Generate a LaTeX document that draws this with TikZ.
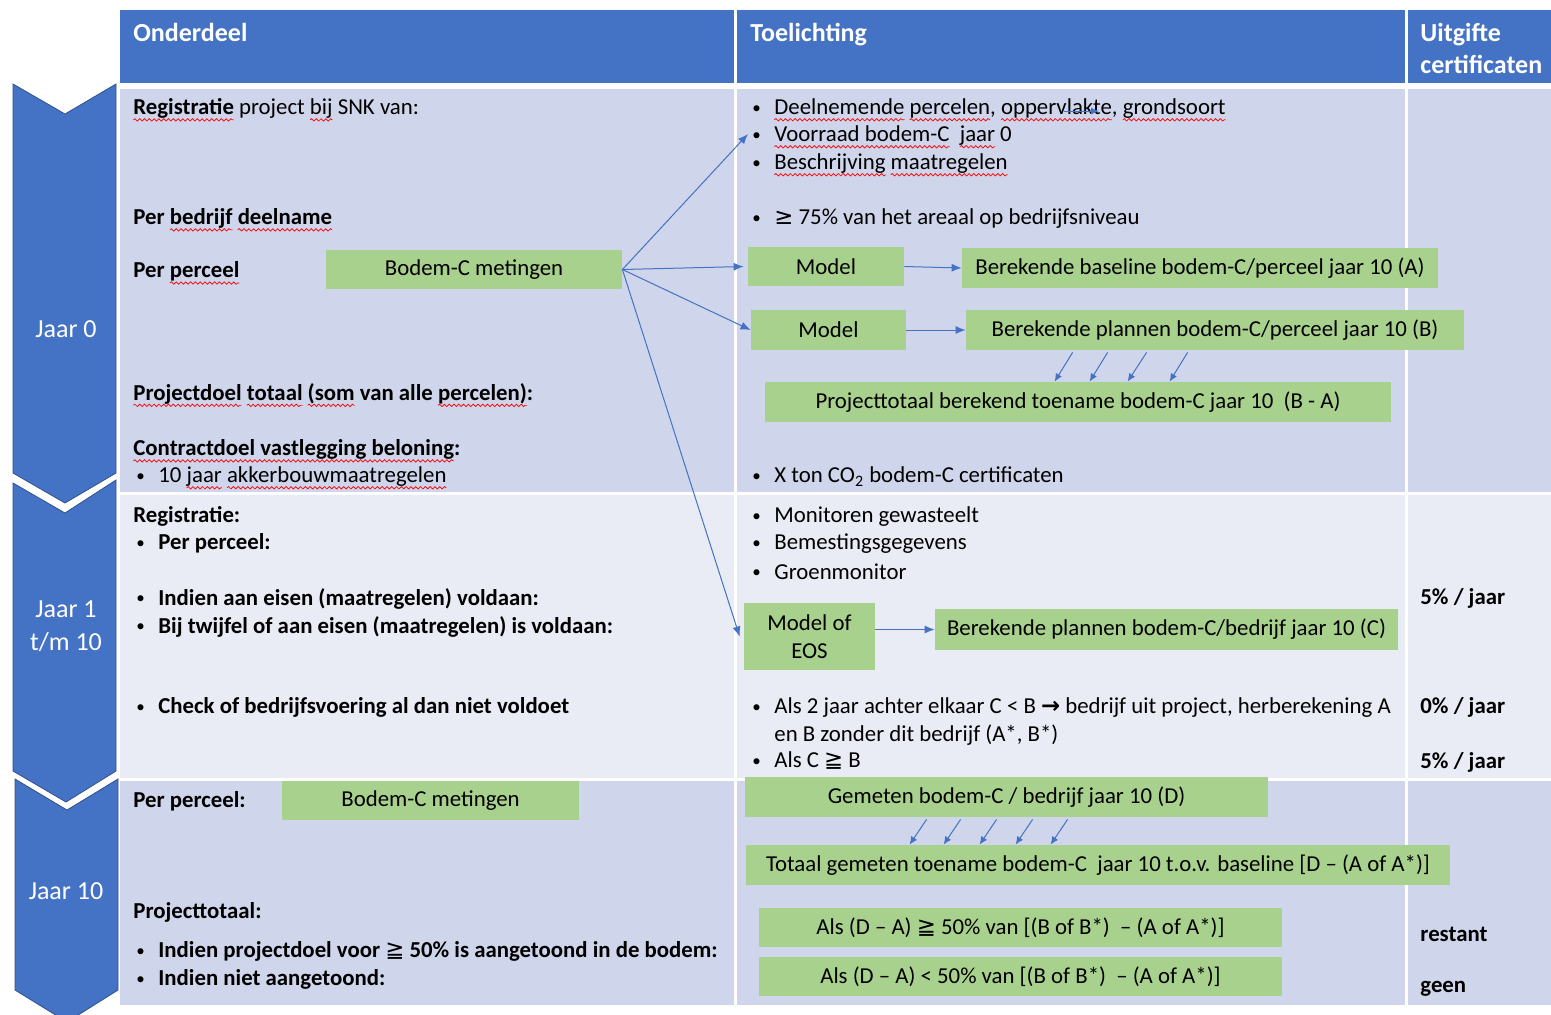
\documentclass[tikz,border=0pt]{standalone}
\usepackage{fontspec}
\setmainfont{Carlito}
\newfontfamily\symfont{DejaVu Sans}
\usepackage{tikz}
\usetikzlibrary{arrows.meta,decorations.pathmorphing}

\definecolor{hdrblue}{HTML}{4472C4}
\definecolor{chevline}{HTML}{2F528F}
\definecolor{rowdark}{HTML}{CFD5EA}
\definecolor{rowlight}{HTML}{E9EBF5}
\definecolor{boxgreen}{HTML}{A9D18E}

\newsavebox\sqbox
\newlength\sqlen
\newcommand\sq[1]{\sbox\sqbox{#1}\setlength\sqlen{\wd\sqbox}\rlap{\usebox\sqbox}%
  \tikz[baseline=0pt, x=1pt, y=1pt]{\useasboundingbox (0,0) rectangle (\sqlen,0);
    \draw[red, line width=0.35pt, decorate, decoration={snake, amplitude=0.6pt, segment length=2.4pt}]
      (0,-2.6) -- (\sqlen,-2.6);}}
\newcommand\bul{\makebox[11pt][l]{\raisebox{0.7pt}{\mdseries\fontsize{8.5}{8}\selectfont\textbullet}}}
\newcommand\symge{{\symfont\mdseries ≥}}
\newcommand\symgeqq{{\symfont\mdseries ≧}}
\newcommand\symrarr{{\symfont\bfseries →}}

\begin{document}
\begin{tikzpicture}
[
  x=0.5pt, y=-0.5pt,
  hdr/.style   = {anchor=base west, inner sep=0, text=white,
                  font=\fontsize{13}{15.6}\selectfont\bfseries},
  txt/.style   = {anchor=west, inner sep=0, yshift=-0.8pt,
                  font=\fontsize{11.4}{13.7}\selectfont},
  btxt/.style  = {txt, font=\fontsize{11.4}{13.7}\selectfont\bfseries},
  grn/.style   = {fill=boxgreen, inner sep=0, font=\fontsize{11.4}{13.7}\selectfont},
  chev/.style  = {fill=hdrblue, draw=chevline, line width=0.4pt},
  jaar/.style  = {text=white, align=center, font=\fontsize{13}{16.5}\selectfont},
  arr/.style   = {draw=hdrblue, line width=0.5pt, -{Latex[length=5pt,width=4pt]}},
  sarr/.style  = {draw=hdrblue, line width=0.5pt, -{Latex[length=4pt,width=3.5pt]}}
]
\useasboundingbox (0,0) rectangle (1551,1014);
\begin{scope}
\clip (0,0) rectangle (1551,1014);
% rows
\fill[hdrblue]  (120,10)  rectangle (1551,83);
\fill[rowdark]  (120,89)  rectangle (1551,492);
\fill[rowlight] (120,495) rectangle (1551,778);
\fill[rowdark]  (120,781) rectangle (1551,1005);
\draw[white, line width=1.5pt] (735.5,10) -- (735.5,1005) (1406.5,10) -- (1406.5,1005);
% chevrons
\draw[chev] (13,84) -- (65,114) -- (116,84) -- (116,473) -- (65,503) -- (13,473) -- cycle;
\draw[chev] (13,483) -- (65,513) -- (116,480) -- (116,771) -- (66,802) -- (13,771) -- cycle;
\draw[chev] (15,779) -- (67,810) -- (118,779) -- (118,990) -- (67,1022) -- (15,990) -- cycle;
\end{scope}
\node[jaar] (j0)  at (66,329) {Jaar 0};
\node[jaar] (j1)  at (66,626) {Jaar 1\\t/m 10};
\node[jaar] (j10) at (66,891) {Jaar 10};

% header
\node[hdr] (hOnd) at (133,41) {Onderdeel};
\node[hdr] (hToe) at (750,41) {Toelichting};
\node[hdr] (hUit) at (1420,41) {Uitgifte};
\node[hdr] (hCer) at (1420,73) {certificaten};

% jaar 0
\node[txt]  (regP)   at (133,107) {\sq{\textbf{Registratie}} project \sq{bij} SNK van:};
\node[btxt] (bedr)   at (133,217) {Per \sq{bedrijf} \sq{deelname}};
\node[btxt] (perc)   at (133,270) {Per \sq{perceel}};
\node[btxt] (pdoel)  at (133,392) {\sq{Projectdoel} \sq{totaal} \sq{(som} van alle \sq{percelen)}:};
\node[btxt] (cdoel)  at (133,448) {\sq{Contractdoel vastlegging beloning}:};
\node[txt]  (akker)  at (136,475) {\bul 10 \sq{jaar} \sq{akkerbouwmaatregelen}};
\node[txt]  (deel)   at (752,107) {\bul\sq{Deelnemende} \sq{percelen}, \sq{oppervlakte}, \sq{grondsoort}};
\node[txt]  (voor)   at (752,134) {\bul\sq{Voorraad bodem-C}\ \ \sq{jaar} 0};
\node[txt]  (besch)  at (752,162) {\bul\sq{Beschrijving} \sq{maatregelen}};
\node[txt]  (areaal) at (752,217) {\bul\symge\ 75\% van het areaal op bedrijfsniveau};
\node[txt]  (xton)   at (752,475) {\bul X ton CO\textsubscript{2} bodem-C certificaten};

\node[grn, minimum width=148pt,   minimum height=19.5pt] (bm1)   at (474,269.5)  {Bodem-C metingen};
\node[grn, minimum width=78pt,    minimum height=19.5pt] (mod1)  at (826,266.5)  {Model};
\node[grn, minimum width=238pt,   minimum height=20pt]   (basA)  at (1200,268)   {Berekende baseline bodem-C/perceel jaar 10 (A)};
\node[grn, minimum width=77.5pt,  minimum height=20pt]   (mod2)  at (828.5,330)  {Model};
\node[grn, minimum width=249pt,   minimum height=20pt]   (planB) at (1215,330)   {Berekende plannen bodem-C/perceel jaar 10 (B)};
\node[grn, minimum width=313pt,   minimum height=20pt]   (totBA) at (1078,402)   {Projecttotaal berekend toename bodem-C jaar 10\ \ (B - A)};

% jaar 1 t/m 10
\node[btxt] (reg2)   at (133,515) {Registratie:};
\node[btxt] (perc2)  at (136,542) {\bul Per perceel:};
\node[btxt] (eisen)  at (136,597) {\bul Indien aan eisen (maatregelen) voldaan:};
\node[btxt] (twijf)  at (136,625) {\bul Bij twijfel of aan eisen (maatregelen) is voldaan:};
\node[btxt] (check)  at (136,706) {\bul Check of bedrijfsvoering al dan niet voldoet};
\node[txt]  (monit)  at (752,515) {\bul Monitoren gewasteelt};
\node[txt]  (bemes)  at (752,542) {\bul Bemestingsgegevens};
\node[txt]  (groen)  at (752,570) {\bul Groenmonitor};
\node[txt]  (als2a)  at (752,706) {\bul Als 2 jaar achter elkaar C < B \symrarr\ bedrijf uit project, herberekening A};
\node[txt]  (als2b)  at (774,733) {en B zonder dit bedrijf (A*, B*)};
\node[txt]  (alsCB)  at (752,759) {\bul Als C \symgeqq\ B};
\node[btxt] (p5a)    at (1420,597) {5\% / jaar};
\node[btxt] (p0)     at (1420,706) {0\% / jaar};
\node[btxt] (p5b)    at (1420,761) {5\% / jaar};

\node[grn, minimum width=65.5pt,  minimum height=33.5pt, align=center] (eos) at (809.5,636.5) {Model of\\[0.5pt]EOS};
\node[grn, minimum width=231.5pt, minimum height=20.5pt] (planC) at (1166.5,629.5) {Berekende plannen bodem-C/bedrijf jaar 10 (C)};

% jaar 10
\node[btxt] (perc3)  at (133,800) {Per perceel:};
\node[btxt] (ptot)   at (133,911) {Projecttotaal:};
\node[btxt] (ind50)  at (136,950) {\bul Indien projectdoel voor \symgeqq\ 50\% is aangetoond in de bodem:};
\node[btxt] (nietA)  at (136,978) {\bul Indien niet aangetoond:};
\node[btxt] (rest)   at (1420,933) {restant};
\node[btxt] (geen)   at (1420,987) {geen};

\node[grn, minimum width=148.5pt, minimum height=19.5pt] (bm2)  at (430.5,800.5) {Bodem-C metingen};
\node[grn, minimum width=261.5pt, minimum height=20pt]   (gemD) at (1006.5,797)  {Gemeten bodem-C / bedrijf jaar 10 (D)};
\node[grn, minimum width=352pt,   minimum height=20pt]   (totD) at (1098,865)    {Totaal gemeten toename bodem-C\ \ jaar 10 t.o.v. baseline [D -- (A of A*)]};
\node[grn, minimum width=261.5pt, minimum height=19.5pt] (ge50) at (1020.5,927.5) {Als (D -- A) \symgeqq\ 50\% van [(B of B*)\ \ -- (A of A*)]};
\node[grn, minimum width=261.5pt, minimum height=19.5pt] (lt50) at (1020.5,976.5) {Als (D -- A) < 50\% van [(B of B*)\ \ -- (A of A*)]};

% connectors
\coordinate (voorTip) at (748,134);
\coordinate (opA) at (1064,111);
\coordinate (opB) at (1099,111);
\draw[arr] (bm1.east) -- (voorTip);
\draw[arr] (bm1.east) -- ([xshift=-2pt]mod1.west);
\draw[arr] (bm1.east) -- (mod2.west);
\draw[arr] (bm1.east) -- ([xshift=-2pt]eos.west);
\draw[arr] (mod1.east) -- (basA.west);
\draw[arr] (mod2.east) -- (planB.west);
\draw[arr] (eos.east |- planC.west) -- (planC.west);
\draw[sarr] (opA) -- (opB);
\foreach \a/\b in {53.5/145, 71/162.5, 90.5/181.5, 111/202.5}
  \draw[sarr] ([xshift=\a pt, yshift=-1pt]planB.south west) -- ([xshift=\b pt]totBA.north west);
\foreach \a/\b in {91/82, 108/99, 126/117, 144/135, 161.5/152.5}
  \draw[sarr] ([xshift=\a pt, yshift=-1pt]gemD.south west) -- ([xshift=\b pt]totD.north west);
\end{tikzpicture}
\end{document}
